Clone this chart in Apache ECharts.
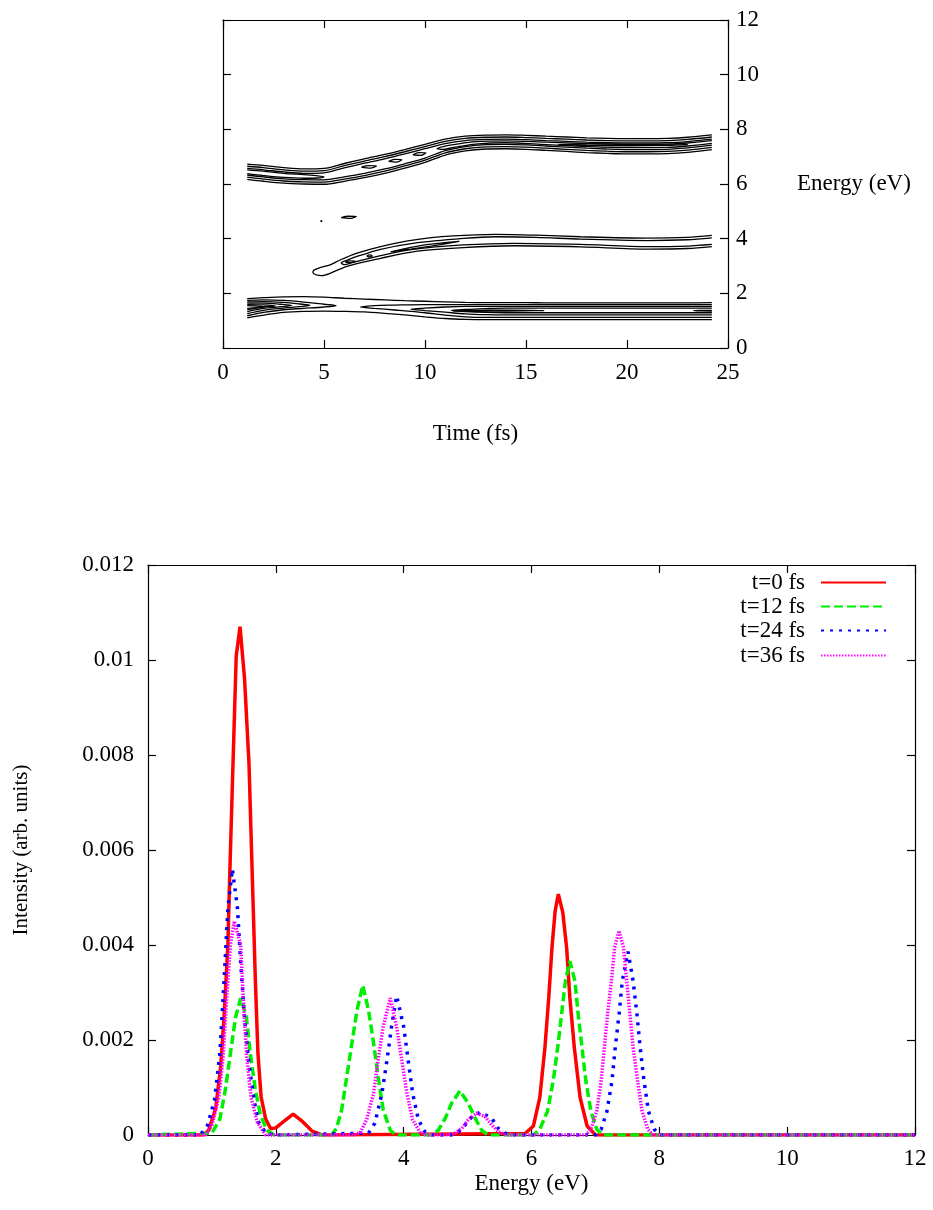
<!DOCTYPE html>
<html>
<head>
<meta charset="utf-8">
<script src="https://cdn.jsdelivr.net/npm/echarts@6/dist/echarts.min.js"></script>
<style>
html,body{margin:0;padding:0;background:#ffffff;}
#chart{width:933px;height:1210px;}
</style>
</head>
<body>
<div id="chart"></div>
<script>
// ================= TOP PANEL: contour map, Time (fs) vs Energy (eV) =================
const timeTicks = [0, 5, 10, 15, 20, 25];
const energyTicksTop = [0, 2, 4, 6, 8, 10, 12];

// common time samples for the long contour lines
const contourTimes = [1.2, 2, 3, 4, 5, 6, 7, 8, 9, 10, 11, 12, 13, 14, 15, 16, 17, 18, 19, 20, 21, 22, 23, 24.2];

// upper band (6-8 eV): three upper edges and three lower edges
const upperBandTop1 = [6.73,6.68,6.60,6.55,6.57,6.75,6.92,7.08,7.26,7.45,7.64,7.75,7.79,7.80,7.78,7.75,7.72,7.69,7.67,7.66,7.66,7.67,7.71,7.80];
const upperBandTop2 = [6.65,6.60,6.52,6.47,6.49,6.67,6.84,7.00,7.18,7.37,7.56,7.67,7.71,7.72,7.70,7.67,7.64,7.61,7.59,7.58,7.58,7.59,7.63,7.72];
const upperBandTop3 = [6.57,6.52,6.44,6.39,6.41,6.59,6.76,6.92,7.10,7.29,7.48,7.59,7.63,7.64,7.62,7.59,7.56,7.53,7.51,7.50,7.50,7.51,7.55,7.64];
const upperBandBot3 = [6.33,6.26,6.19,6.16,6.15,6.26,6.39,6.55,6.74,6.95,7.22,7.37,7.44,7.45,7.43,7.39,7.35,7.31,7.28,7.26,7.26,7.27,7.32,7.42];
const upperBandBot2 = [6.25,6.18,6.11,6.08,6.07,6.18,6.31,6.47,6.66,6.87,7.14,7.29,7.36,7.37,7.35,7.31,7.27,7.23,7.20,7.18,7.18,7.19,7.24,7.34];
const upperBandBot1 = [6.17,6.10,6.03,6.00,5.99,6.10,6.23,6.39,6.58,6.79,7.06,7.21,7.28,7.29,7.27,7.23,7.19,7.15,7.12,7.10,7.10,7.11,7.16,7.26];
// inner contours of the upper band, as [time, energy] paths
const upperInnerLeft = [[1.2,6.52],[2,6.47],[3,6.39],[4,6.34],[4.7,6.30],[5.0,6.26],[4.7,6.22],[4,6.21],[3,6.24],[2,6.31],[1.2,6.38]];
const upperIsland1 = [[6.85,6.62],[7.2,6.67],[7.6,6.66],[7.3,6.58],[6.85,6.62]];
const upperIsland2 = [[8.2,6.83],[8.5,6.90],[8.85,6.89],[8.6,6.80],[8.2,6.83]];
const upperIsland3 = [[9.4,7.07],[9.7,7.15],[10.05,7.14],[9.8,7.05],[9.4,7.07]];
const upperInnerRight = [[24.2,7.59],[23,7.50],[22,7.46],[20,7.45],[18,7.48],[16,7.53],[14,7.58],[12.5,7.55],[11.5,7.45],[10.9,7.37],[10.6,7.30],[10.9,7.27],[11.5,7.35],[12.5,7.46],[14,7.51],[16,7.44],[18,7.37],[20,7.33],[22,7.34],[23,7.39],[24.2,7.49]];
const upperCore = [[16.6,7.44],[18,7.47],[20,7.45],[22,7.43],[23,7.44],[22,7.41],[20,7.40],[18,7.41],[16.6,7.44]];

// middle band (3-4 eV)
const middleOuter = [[24.2,4.12],[23,4.05],[21,4.02],[17.7,4.07],[15.5,4.13],[13.5,4.16],[11.4,4.10],[9.4,3.95],[7.8,3.71],[6.6,3.46],[5.8,3.22],[5.3,3.04],[4.8,2.94],[4.5,2.85],[4.45,2.76],[4.6,2.68],[4.9,2.65],[5.3,2.73],[6.1,2.98],[7.8,3.28],[9.4,3.52],[11.9,3.67],[14.4,3.74],[17.7,3.70],[21,3.62],[23,3.64],[24.2,3.71]];
const middleSecond = [[24.2,4.03],[23,3.96],[21,3.93],[17.7,3.98],[15.5,4.05],[13.5,4.07],[11.9,4.01],[9.4,3.83],[7.8,3.61],[6.6,3.34],[6.1,3.20],[5.85,3.12],[6.0,3.05],[6.4,3.12],[7.8,3.38],[9.4,3.61],[11.9,3.77],[14.4,3.83],[17.7,3.79],[21,3.71],[23,3.73],[24.2,3.79]];
const middleInner = [[8.3,3.52],[9.3,3.68],[10.3,3.80],[11.7,3.90],[10.3,3.73],[9.3,3.62],[8.3,3.52]];
const middleIsland1 = [[6.05,3.14],[6.3,3.19],[6.55,3.18],[6.3,3.12],[6.05,3.14]];
const middleIsland2 = [[7.12,3.37],[7.25,3.41],[7.38,3.37],[7.25,3.33],[7.12,3.37]];
const strayIsland = [[5.85,4.77],[6.2,4.82],[6.6,4.81],[6.25,4.74],[5.85,4.77]];
const strayDot = [[4.83,4.65],[4.9,4.66],[4.87,4.63],[4.83,4.65]];

// lower band (1-2 eV)
const lowerBandTop = [1.81,1.84,1.87,1.88,1.86,1.82,1.79,1.76,1.73,1.71,1.69,1.67,1.66,1.66,1.66,1.65,1.65,1.65,1.65,1.65,1.65,1.65,1.65,1.66];
const lowerBandBot = [1.10,1.20,1.30,1.34,1.35,1.34,1.32,1.27,1.21,1.14,1.08,1.05,1.04,1.04,1.04,1.04,1.04,1.04,1.04,1.04,1.04,1.04,1.04,1.04];
const lowerLeft1 = [[1.2,1.74],[2,1.76],[3,1.74],[4,1.68],[5,1.60],[5.6,1.55],[5,1.50],[4,1.45],[3,1.40],[2,1.30],[1.2,1.18]];
const lowerLeft2 = [[1.2,1.69],[2,1.70],[3,1.67],[3.8,1.61],[4.3,1.56],[3.8,1.51],[3,1.46],[2,1.38],[1.2,1.26]];
const lowerLeft3 = [[1.2,1.64],[2,1.64],[2.9,1.60],[3.4,1.56],[2.9,1.51],[2,1.45],[1.2,1.33]];
const lowerLeft4 = [[1.2,1.59],[2,1.58],[2.6,1.54],[2,1.50],[1.2,1.40]];
const lowerLeft5 = [[1.2,1.55],[1.7,1.53],[2.1,1.51],[1.7,1.48],[1.2,1.45]];
const lowerRight1 = [[24.2,1.59],[21,1.59],[18,1.59],[15,1.59],[12,1.59],[10,1.59],[8.5,1.57],[7.5,1.55],[6.8,1.50],[7.5,1.45],[8.5,1.39],[10,1.29],[11,1.20],[12,1.14],[13,1.12],[15,1.12],[18,1.12],[21,1.12],[24.2,1.12]];
const lowerRight2 = [[24.2,1.52],[21,1.52],[18,1.52],[15,1.52],[12,1.52],[11,1.50],[10,1.46],[9.3,1.42],[10,1.37],[11,1.31],[12,1.25],[13,1.22],[14,1.21],[18,1.21],[21,1.21],[24.2,1.21]];
const lowerRight3 = [[24.2,1.46],[21,1.46],[18,1.46],[14,1.46],[13,1.44],[12,1.41],[11.3,1.37],[12,1.33],[13,1.30],[14,1.29],[18,1.29],[21,1.29],[24.2,1.29]];
const lowerCore1 = [[11.4,1.36],[12.5,1.38],[14,1.385],[15.9,1.37],[14,1.35],[12.5,1.345],[11.4,1.36]];
const lowerCore2 = [[24.2,1.38],[23.6,1.375],[23.3,1.365],[23.6,1.355],[24.2,1.35]];

// ================= BOTTOM PANEL: spectra =================
const energyTicks = [0, 2, 4, 6, 8, 10, 12];
const intensityTicks = [0, 0.002, 0.004, 0.006, 0.008, 0.01, 0.012];
const seriesNames = ['t=0 fs', 't=12 fs', 't=24 fs', 't=36 fs'];

const energyT0 = [0,0.87,0.95,1.06,1.135,1.19,1.25,1.28,1.33,1.38,1.44,1.51,1.58,1.63,1.68,1.72,1.77,1.84,1.92,2.0,2.12,2.27,2.42,2.57,2.72,5.9,6.03,6.13,6.21,6.27,6.32,6.37,6.42,6.49,6.55,6.60,6.67,6.76,6.87,7.0,12];
const intensityT0 = [0,0,0.0001,0.00057,0.00141,0.00248,0.0040,0.00553,0.00782,0.01008,0.0107,0.00962,0.00782,0.00553,0.00324,0.00172,0.0008,0.00034,0.00013,0.00015,0.00028,0.00044,0.00028,0.00008,0,0.00003,0.00019,0.00079,0.00184,0.00289,0.00394,0.00472,0.00507,0.00468,0.00394,0.00289,0.00184,0.00079,0.00019,0,0];

const energyT12 = [0,1.0,1.125,1.21,1.29,1.37,1.45,1.54,1.60,1.68,1.76,1.86,1.97,2.87,2.95,3.03,3.11,3.19,3.27,3.36,3.45,3.53,3.60,3.68,3.79,3.88,4.44,4.54,4.65,4.75,4.88,5.01,5.12,5.22,5.32,6.03,6.13,6.25,6.34,6.41,6.47,6.53,6.60,6.68,6.73,6.79,6.85,6.93,7.02,7.12,12];
const intensityT12 = [0,0.00004,0.00034,0.00095,0.00172,0.00248,0.00288,0.00248,0.00172,0.00095,0.00042,0.0001,0,0,0.00014,0.00053,0.00123,0.00193,0.00263,0.00315,0.00263,0.00193,0.00123,0.00053,0.0001,0,0,0.0001,0.00035,0.00067,0.00093,0.00067,0.00035,0.0001,0,0,0.00012,0.0005,0.00114,0.00184,0.00254,0.00324,0.00366,0.00324,0.00254,0.00184,0.00114,0.0005,0.00012,0,0];

const energyT24 = [0,0.82,0.93,1.04,1.125,1.19,1.25,1.32,1.40,1.45,1.51,1.58,1.66,1.73,1.84,1.95,3.45,3.55,3.66,3.74,3.81,3.89,4.0,4.07,4.14,4.23,4.33,4.45,4.76,4.86,4.96,5.07,5.2,5.38,5.48,5.59,5.7,7.0,7.09,7.18,7.26,7.31,7.37,7.42,7.51,7.59,7.65,7.70,7.76,7.83,7.92,8.01,12];
const intensityT24 = [0,0,0.0002,0.00073,0.00172,0.00324,0.00477,0.0056,0.00477,0.00363,0.00248,0.00149,0.00073,0.00027,0.00005,0,0.00004,0.00025,0.00088,0.00158,0.00228,0.00293,0.00228,0.00158,0.00088,0.00032,0.00007,0,0,0.00007,0.00021,0.00039,0.00048,0.00035,0.00014,0.00004,0,0,0.00012,0.0005,0.00114,0.00184,0.00254,0.00324,0.00386,0.00324,0.00254,0.00184,0.00114,0.0005,0.00012,0,0];

const energyT36 = [0,0.9,1.0,1.11,1.18,1.23,1.29,1.35,1.45,1.49,1.54,1.61,1.71,1.84,3.22,3.32,3.42,3.53,3.60,3.68,3.79,3.89,3.97,4.05,4.14,4.26,4.38,4.70,4.80,4.91,5.01,5.14,5.27,5.38,5.48,5.6,6.85,6.93,7.02,7.09,7.14,7.19,7.25,7.30,7.37,7.44,7.49,7.54,7.59,7.66,7.73,7.82,7.90,12];
const intensityT36 = [0,0,0.0002,0.0008,0.00172,0.00286,0.004,0.0045,0.004,0.00286,0.00172,0.0008,0.00027,0,0,0.00005,0.00032,0.00088,0.00158,0.00228,0.00288,0.00228,0.00158,0.00088,0.00032,0.00005,0,0,0.00004,0.00014,0.00032,0.00046,0.00039,0.00021,0.00007,0,0,0.00012,0.0005,0.00114,0.00184,0.00254,0.00324,0.00394,0.0043,0.00394,0.00324,0.00254,0.00184,0.00114,0.0005,0.00012,0,0];

// ================= build options =================
const FONT = '"Liberation Serif", "DejaVu Serif", serif';
const onTimeGrid = arr => contourTimes.map((t, i) => [t, arr[i]]);
const pairs = (xs, ys) => xs.map((x, i) => [x, ys[i]]);

const contourPaths = [
  onTimeGrid(upperBandTop1), onTimeGrid(upperBandTop2), onTimeGrid(upperBandTop3),
  onTimeGrid(upperBandBot3), onTimeGrid(upperBandBot2), onTimeGrid(upperBandBot1),
  upperInnerLeft, upperIsland1, upperIsland2, upperIsland3, upperInnerRight, upperCore,
  middleOuter, middleSecond, middleInner, middleIsland1, middleIsland2, strayIsland, strayDot,
  onTimeGrid(lowerBandTop), onTimeGrid(lowerBandBot),
  lowerLeft1, lowerLeft2, lowerLeft3, lowerLeft4, lowerLeft5,
  lowerRight1, lowerRight2, lowerRight3, lowerCore1, lowerCore2
];

const contourSeries = contourPaths.map((d, k) => ({
  type: 'line', name: 'contour' + k, xAxisIndex: 0, yAxisIndex: 0,
  data: d, symbol: 'none', smooth: 0.3, silent: true, animation: false,
  lineStyle: { color: '#000000', width: 1.3 }, z: 3
}));

const spectra = [
  { name: seriesNames[0], data: pairs(energyT0, intensityT0), color: '#ff0000', type: 'solid' },
  { name: seriesNames[1], data: pairs(energyT12, intensityT12), color: '#00ee00', type: [9, 4] },
  { name: seriesNames[2], data: pairs(energyT24, intensityT24), color: '#0000ff', type: [3, 6] },
  { name: seriesNames[3], data: pairs(energyT36, intensityT36), color: '#ff00ff', type: [1.5, 1.5] }
];
const spectraSeries = spectra.map(s => ({
  type: 'line', name: s.name, xAxisIndex: 2, yAxisIndex: 2, data: s.data,
  symbol: 'none', showSymbol: false, smooth: false, animation: false,
  color: s.color,
  lineStyle: { color: s.color, width: 3.5, type: s.type }, z: 3
}));

const axisCommon = {
  axisLine: { show: true, onZero: false, lineStyle: { color: '#000', width: 1.2 } },
  axisTick: { show: true, inside: true, length: 8, lineStyle: { color: '#000', width: 1.2 } },
  splitLine: { show: false },
  axisLabel: { color: '#000', fontFamily: FONT, fontSize: 23 },
  nameTextStyle: { color: '#000', fontFamily: FONT, fontSize: 23 }
};
const mirror = { axisLabel: { show: false } };

const option = {
  backgroundColor: '#ffffff',
  animation: false,
  grid: [
    { left: 223, top: 20, width: 505, height: 328, containLabel: false },
    { left: 148, top: 565, width: 767, height: 570, containLabel: false }
  ],
  xAxis: [
    Object.assign({}, axisCommon, {
      type: 'value', gridIndex: 0, position: 'bottom',
      min: timeTicks[0], max: timeTicks[timeTicks.length - 1], interval: timeTicks[1] - timeTicks[0],
      name: 'Time (fs)', nameLocation: 'middle', nameGap: 74,
      axisLabel: Object.assign({}, axisCommon.axisLabel, { margin: 13 })
    }),
    Object.assign({}, axisCommon, mirror, {
      type: 'value', gridIndex: 0, position: 'top',
      min: timeTicks[0], max: timeTicks[timeTicks.length - 1], interval: timeTicks[1] - timeTicks[0]
    }),
    Object.assign({}, axisCommon, {
      type: 'value', gridIndex: 1, position: 'bottom',
      min: energyTicks[0], max: energyTicks[energyTicks.length - 1], interval: energyTicks[1] - energyTicks[0],
      name: 'Energy (eV)', nameLocation: 'middle', nameGap: 37,
      axisLabel: Object.assign({}, axisCommon.axisLabel, { margin: 12 })
    }),
    Object.assign({}, axisCommon, mirror, {
      type: 'value', gridIndex: 1, position: 'top',
      min: energyTicks[0], max: energyTicks[energyTicks.length - 1], interval: energyTicks[1] - energyTicks[0]
    })
  ],
  yAxis: [
    Object.assign({}, axisCommon, {
      type: 'value', gridIndex: 0, position: 'right',
      min: energyTicksTop[0], max: energyTicksTop[energyTicksTop.length - 1], interval: energyTicksTop[1] - energyTicksTop[0],
      name: 'Energy (eV)', nameLocation: 'middle', nameRotate: 0, nameGap: 69,
      nameTextStyle: Object.assign({}, axisCommon.nameTextStyle, { align: 'left', verticalAlign: 'middle' }),
      axisLabel: Object.assign({}, axisCommon.axisLabel, { margin: 8 })
    }),
    Object.assign({}, axisCommon, mirror, {
      type: 'value', gridIndex: 0, position: 'left',
      min: energyTicksTop[0], max: energyTicksTop[energyTicksTop.length - 1], interval: energyTicksTop[1] - energyTicksTop[0]
    }),
    Object.assign({}, axisCommon, {
      type: 'value', gridIndex: 1, position: 'left',
      min: intensityTicks[0], max: intensityTicks[intensityTicks.length - 1], interval: intensityTicks[1] - intensityTicks[0],
      name: 'Intensity (arb. units)', nameLocation: 'middle', nameGap: 116,
      nameTextStyle: Object.assign({}, axisCommon.nameTextStyle, { fontSize: 21 }),
      axisLabel: Object.assign({}, axisCommon.axisLabel, { margin: 14 })
    }),
    Object.assign({}, axisCommon, mirror, {
      type: 'value', gridIndex: 1, position: 'right',
      min: intensityTicks[0], max: intensityTicks[intensityTicks.length - 1], interval: intensityTicks[1] - intensityTicks[0]
    })
  ],
  legend: seriesNames.map((n, i) => ({
    data: [n], orient: 'vertical', right: 46, top: [571, 595, 619, 644][i],
    align: 'right', padding: 0, itemWidth: 65, itemHeight: 14, selectedMode: false,
    itemStyle: { color: 'rgba(0,0,0,0)', borderColor: 'rgba(0,0,0,0)', borderWidth: 0, opacity: 0 },
    textStyle: { color: '#000', fontFamily: FONT, fontSize: 23, padding: [0, 11, 0, 0] }
  })),
  series: contourSeries.concat(spectraSeries)
};

const chart = echarts.init(document.getElementById('chart'), null, { renderer: 'canvas' });
chart.setOption(option);
</script>
</body>
</html>
